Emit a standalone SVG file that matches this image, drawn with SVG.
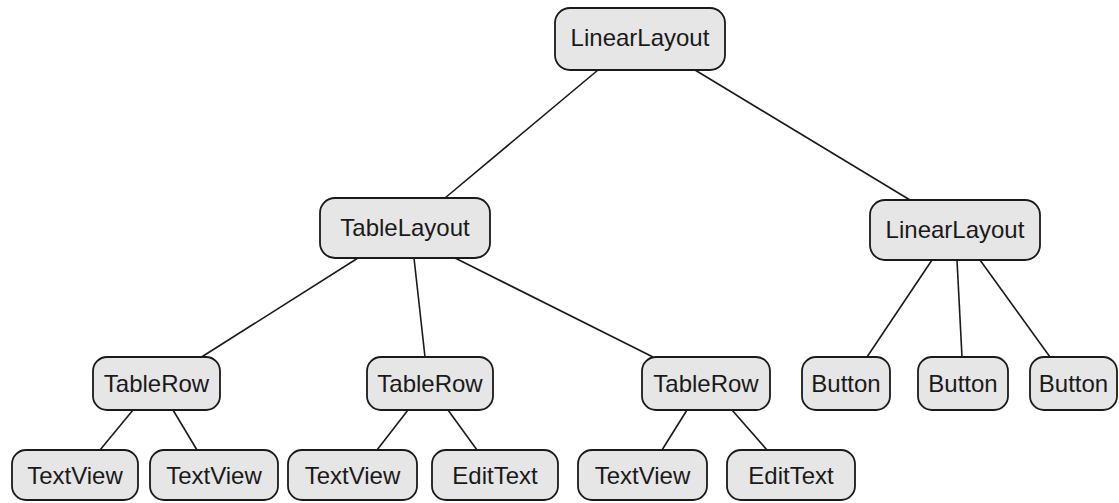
<svg xmlns="http://www.w3.org/2000/svg" width="1119" height="503" viewBox="0 0 1119 503">
<style>
.n rect{fill:#e6e6e6;stroke:#1a1a1a;stroke-width:1.8}
.n text{font-family:"Liberation Sans",Arial,sans-serif;font-size:24px;fill:#1a1a1a;text-anchor:middle}
.c line{stroke:#1a1a1a;stroke-width:1.6}
</style>
<rect width="1119" height="503" fill="#fff"/>
<g class="c" id="connectors">
<line x1="598" y1="70" x2="445" y2="198"/>
<line x1="695" y1="70" x2="910" y2="200"/>
<line x1="358" y1="258" x2="200" y2="358"/>
<line x1="414" y1="258" x2="425" y2="357"/>
<line x1="455" y1="258" x2="653" y2="357"/>
<line x1="133" y1="410" x2="100" y2="450"/>
<line x1="173" y1="410" x2="197" y2="450"/>
<line x1="408" y1="410" x2="377" y2="450"/>
<line x1="448" y1="410" x2="477" y2="450"/>
<line x1="687" y1="410" x2="662" y2="450"/>
<line x1="732" y1="410" x2="767" y2="450"/>
<line x1="932" y1="260" x2="867" y2="357"/>
<line x1="957" y1="260" x2="962" y2="357"/>
<line x1="980" y1="260" x2="1050" y2="357"/>
</g>
<g class="n" id="root"><rect x="555" y="8" width="170" height="62" rx="15"/><text x="640" y="46">LinearLayout</text></g>
<g class="n" id="tablelayout"><rect x="320" y="198" width="170" height="60" rx="15"/><text x="405" y="236">TableLayout</text></g>
<g class="n" id="linearlayout2"><rect x="870" y="200" width="170" height="60" rx="15"/><text x="955" y="238">LinearLayout</text></g>
<g class="n" id="tablerow1"><rect x="93" y="357" width="127" height="53" rx="14"/><text x="156.5" y="392">TableRow</text></g>
<g class="n" id="tablerow2"><rect x="367" y="357" width="126" height="53" rx="14"/><text x="430" y="392">TableRow</text></g>
<g class="n" id="tablerow3"><rect x="642" y="357" width="128" height="53" rx="14"/><text x="706" y="392">TableRow</text></g>
<g class="n" id="button1"><rect x="802" y="357" width="88" height="53" rx="14"/><text x="846" y="392">Button</text></g>
<g class="n" id="button2"><rect x="918" y="357" width="90" height="53" rx="14"/><text x="963" y="392">Button</text></g>
<g class="n" id="button3"><rect x="1030" y="357" width="87" height="53" rx="14"/><text x="1073.5" y="392">Button</text></g>
<g class="n" id="textview1"><rect x="12" y="450" width="126" height="50" rx="14"/><text x="75" y="484">TextView</text></g>
<g class="n" id="textview2"><rect x="150" y="450" width="128" height="50" rx="14"/><text x="214" y="484">TextView</text></g>
<g class="n" id="textview3"><rect x="288" y="450" width="129" height="50" rx="14"/><text x="352.5" y="484">TextView</text></g>
<g class="n" id="edittext1"><rect x="432" y="450" width="126" height="50" rx="14"/><text x="495" y="484">EditText</text></g>
<g class="n" id="textview4"><rect x="578" y="450" width="129" height="50" rx="14"/><text x="642.5" y="484">TextView</text></g>
<g class="n" id="edittext2"><rect x="727" y="450" width="128" height="50" rx="14"/><text x="791" y="484">EditText</text></g>
</svg>
